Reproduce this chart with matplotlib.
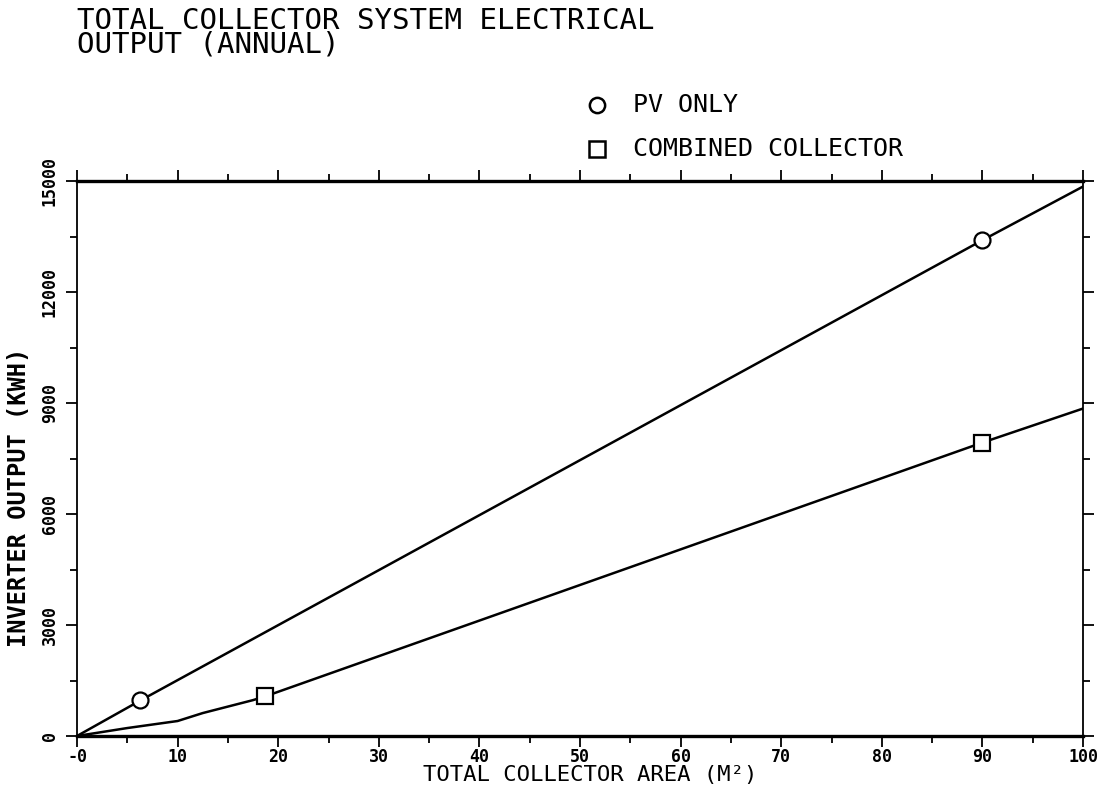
import numpy as np
import matplotlib
matplotlib.use("Agg")
import matplotlib.pyplot as plt
from matplotlib.ticker import MultipleLocator
from matplotlib.lines import Line2D

# ------- Daten -------
pv_area = [0, 6.3, 90, 100]
pv_output = [0, 960, 13400, 14850]
pv_marks = [1, 2]

comb_area = [0, 5, 10, 12.5, 17.5, 18.7, 90, 100]
comb_output = [0, 215, 405, 620, 970, 1070, 7930, 8850]
comb_marks = [5, 6]

x_ticks = [0, 10, 20, 30, 40, 50, 60, 70, 80, 90, 100]
x_ticklabels = ['-0', '10', '20', '30', '40', '50', '60', '70', '80', '90', '100']
y_ticks = [0, 3000, 6000, 9000, 12000, 15000]
y_ticklabels = ['0', '3000', '6000', '9000', '12000', '15000']

title = 'TOTAL COLLECTOR SYSTEM ELECTRICAL\nOUTPUT (ANNUAL)'
legend_labels = ['PV ONLY', 'COMBINED COLLECTOR']

FONT = 'DejaVu Sans Mono'
W, H = 1102, 791

fig = plt.figure(figsize=(W / 100, H / 100), dpi=100)
ax = fig.add_axes([77 / W, 1 - 736 / H, (1083 - 77) / W, (736 - 181) / H])

ax.plot(pv_area, pv_output, color='black', lw=1.8, marker='o', markevery=pv_marks,
        ms=11.5, mfc='white', mec='black', mew=1.6)
ax.plot(comb_area, comb_output, color='black', lw=1.8, marker='s', markevery=comb_marks,
        ms=11.5, mfc='white', mec='black', mew=1.6)

ax.set_xlim(0, 100)
ax.set_ylim(0, 15000)

ax.set_xticks(x_ticks)
ax.set_xticklabels(x_ticklabels)
ax.set_yticks(y_ticks)
ax.set_yticklabels(y_ticklabels, rotation=90, va='center')
ax.xaxis.set_minor_locator(MultipleLocator(5))
ax.yaxis.set_minor_locator(MultipleLocator(1500))

ax.tick_params(which='both', direction='out', top=True, right=True,
               labeltop=False, labelright=False, width=1.3, color='black')
ax.tick_params(which='major', length=8)
ax.tick_params(which='minor', length=5)
ax.tick_params(axis='x', pad=1)
ax.tick_params(axis='y', pad=5)
for lab in ax.get_xticklabels() + ax.get_yticklabels():
    lab.set_fontfamily(FONT)
    lab.set_fontweight('bold')
    lab.set_fontsize(12)

ax.spines['top'].set_linewidth(2.4)
ax.spines['bottom'].set_linewidth(2.4)
ax.spines['left'].set_linewidth(1.3)
ax.spines['right'].set_linewidth(1.3)

ax.set_xlabel('TOTAL COLLECTOR AREA (M²)', fontfamily=FONT, fontsize=16, va='center')
ax.xaxis.set_label_coords(0.51, -0.071)
ax.set_ylabel('INVERTER OUTPUT (KWH)', fontfamily=FONT, fontsize=17, fontweight='bold', va='center')
ax.yaxis.set_label_coords(-0.058, 0.43)

# Titel (zwei Zeilen, linksbuendig)
fig.text(77 / W, 1 - 33 / H, title, fontfamily=FONT, fontsize=21, va='center', ha='left',
         linespacing=0.8)

# Legende von Hand gesetzt
fig.add_artist(Line2D([597 / W], [1 - 105 / H], marker='o', ms=11, mfc='white', mec='black', mew=1.8,
                      transform=fig.transFigure))
fig.add_artist(Line2D([597 / W], [1 - 149 / H], marker='s', ms=11, mfc='white', mec='black', mew=1.8,
                      transform=fig.transFigure))
fig.text(633 / W, 1 - 105 / H, legend_labels[0], fontfamily=FONT, fontsize=18, va='center', ha='left')
fig.text(633 / W, 1 - 149 / H, legend_labels[1], fontfamily=FONT, fontsize=18, va='center', ha='left')

fig.savefig('out.png', dpi=100, facecolor='white')
